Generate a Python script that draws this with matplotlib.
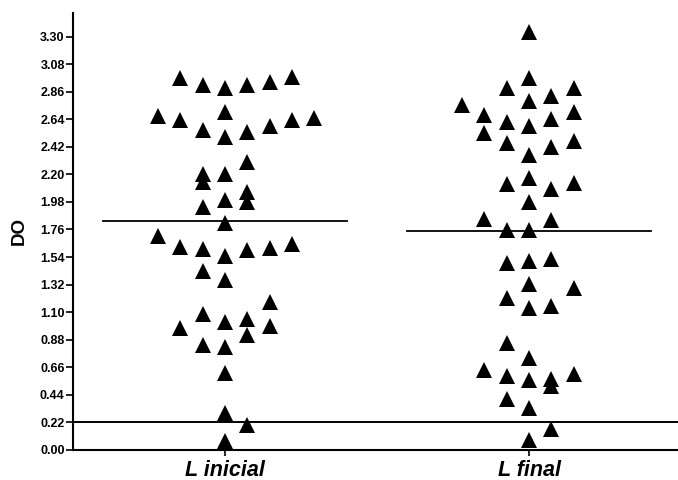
import matplotlib
matplotlib.use("Agg")
import matplotlib.pyplot as plt
import numpy as np

plt.rcParams['font.family'] = ['Liberation Sans', 'DejaVu Sans']

groups = ["L inicial", "L final"]
y_ticks = [0.00, 0.22, 0.44, 0.66, 0.88, 1.10, 1.32, 1.54, 1.76, 1.98,
           2.20, 2.42, 2.64, 2.86, 3.08, 3.30]

inicial_values = [2.969, 2.915, 2.889, 2.910, 2.937, 2.975,
                  2.662, 2.636, 2.696, 2.556, 2.495, 2.537, 2.588, 2.636, 2.649,
                  2.298, 2.202, 2.137, 2.204, 2.057, 1.983, 1.937, 1.997, 1.808,
                  1.704, 1.624, 1.607, 1.548, 1.596, 1.616, 1.647,
                  1.427, 1.353,
                  1.185, 1.084, 1.018, 1.042, 0.990, 0.977, 0.916, 0.835, 0.823,
                  0.615, 0.296, 0.197, 0.069]
inicial_slot = [-2, -1, 0, 1, 2, 3,
                -3, -2, 0, -1, 0, 1, 2, 3, 4,
                1, -1, -1, 0, 1, 1, -1, 0, 0,
                -3, -2, -1, 0, 1, 2, 3,
                -1, 0,
                2, -1, 0, 1, 2, -2, 1, -1, 0,
                0, 0, 1, 0]

final_values = [3.337, 2.965, 2.887, 2.887, 2.826, 2.786, 2.756, 2.675, 2.699,
                2.619, 2.645, 2.587, 2.533, 2.453, 2.467, 2.420, 2.356,
                2.174, 2.126, 2.086, 2.134, 1.980, 1.846, 1.832, 1.756, 1.756,
                1.495, 1.507, 1.528,
                1.322, 1.294, 1.214, 1.134, 1.149,
                0.852, 0.735, 0.635, 0.594, 0.555, 0.569, 0.509, 0.603,
                0.409, 0.335, 0.169, 0.083]
final_slot = [0, 0, -1, 2, 1, 0, -3, -2, 2,
              -1, 1, 0, -2, -1, 2, 1, 0,
              0, -1, 1, 2, 0, -2, 1, -1, 0,
              -1, 0, 1,
              0, 2, -1, 0, 1,
              -1, 0, -2, -1, 0, 1, 1, 2,
              -1, 0, 1, 0]

group_lines = [1.829, 1.749]
cutoff = 0.22

fig = plt.figure(figsize=(6.78, 4.80), dpi=100)
ax = fig.add_axes([0.1077, 0.0625, 0.8923, 0.911])

slot_w = 0.0734
for gi, (vals, slots) in enumerate([(inicial_values, inicial_slot),
                                    (final_values, final_slot)]):
    xc = gi + 1
    xs = xc + np.array(slots) * slot_w
    ax.plot(xs, vals, linestyle='none', marker='^', markersize=11.4,
            color='black', markeredgewidth=0, zorder=3)
    ax.plot([xc - 0.40, xc + 0.40], [group_lines[gi]] * 2, color='black',
            lw=1.3, zorder=2)

ax.axhline(cutoff, color='black', lw=1.4, zorder=2)

ax.set_xlim(0.5, 2.49)
ax.set_ylim(0, 3.49)
ax.set_yticks(y_ticks)
ax.set_yticklabels([f"{v:.2f}" for v in y_ticks], fontsize=9,
                   fontweight='bold')
ax.set_xticks([1, 2])
ax.set_xticklabels(groups, fontsize=15.5, fontweight='bold', style='italic')
ax.tick_params(axis='y', length=5, width=1.2, pad=1)
ax.tick_params(axis='x', length=4, width=1.2, pad=3)
ax.set_ylabel("DO", fontsize=13.5, fontweight='bold', labelpad=9)

for s in ['top', 'right']:
    ax.spines[s].set_visible(False)
for s in ['left', 'bottom']:
    ax.spines[s].set_linewidth(1.5)

fig.savefig("out.png", dpi=100)
